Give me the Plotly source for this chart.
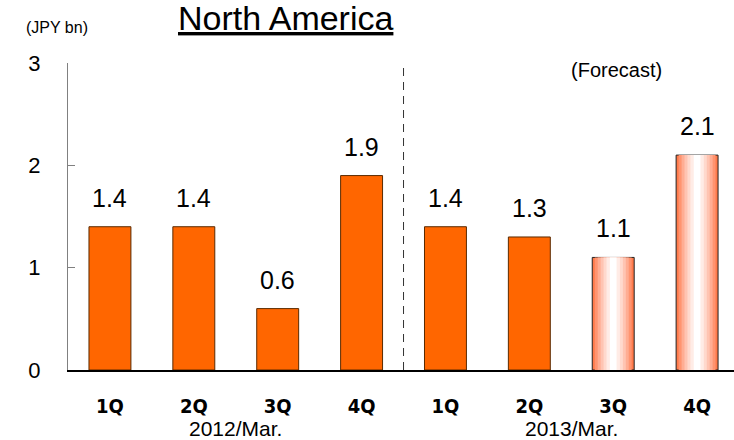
import plotly.graph_objects as go

categories = ["1Q", "2Q", "3Q", "4Q", "1Q", "2Q", "3Q", "4Q"]
values = [1.4, 1.4, 0.6, 1.9, 1.4, 1.3, 1.1, 2.1]
is_forecast = [False, False, False, False, False, False, True, True]
year_labels = ["2012/Mar.", "2013/Mar."]
year_centers = [1.5, 5.5]
yticks = [0, 1, 2, 3]

xs = list(range(len(categories)))
act_x = [x for x, f in zip(xs, is_forecast) if not f]
act_y = [v for v, f in zip(values, is_forecast) if not f]
fc_x = [x for x, f in zip(xs, is_forecast) if f]
fc_y = [v for v, f in zip(values, is_forecast) if f]

fig = go.Figure()
fig.add_trace(go.Bar(x=act_x, y=act_y, width=0.5,
                     marker=dict(color="#FF6600", line=dict(color="#5a2a00", width=1)),
                     hoverinfo="skip"))

# gradient imitation for forecast bars: overlaid bars of shrinking width
layers = [(0.50, "#FF7A4A"), (0.44, "#FF9470"), (0.37, "#FFAD93"),
          (0.30, "#FFC4B2"), (0.23, "#FFD9CD"), (0.16, "#FFECE6"), (0.08, "#FFFFFF")]
for i, (w, c) in enumerate(layers):
    fig.add_trace(go.Bar(x=fc_x, y=fc_y, width=w,
                         marker=dict(color=c,
                                     line=dict(color="#222222" if i == 0 else c,
                                               width=1 if i == 0 else 0)),
                         hoverinfo="skip"))

base_font = "Liberation Sans, Arial"
annotations = []
for x, v in zip(xs, values):
    annotations.append(dict(x=x, y=v, xref="x", yref="y", text=f"{v:.1f}",
                            showarrow=False, yanchor="bottom", xanchor="center", yshift=13,
                            font=dict(family=base_font, size=25, color="#000")))
for lab, cx in zip(year_labels, year_centers):
    annotations.append(dict(x=cx, y=-0.192, xref="x", yref="paper", text=lab,
                            showarrow=False, yanchor="middle", xanchor="center", borderpad=0,
                            font=dict(family=base_font, size=21, color="#000")))
annotations.append(dict(x=0.327, y=1.145, xref="paper", yref="paper",
                        text="<u>North America</u>", showarrow=False, borderpad=0,
                        yanchor="middle", xanchor="center",
                        font=dict(family=base_font, size=34, color="#000")))
annotations.append(dict(x=-0.016, y=1.117, xref="paper", yref="paper",
                        text="(JPY bn)", showarrow=False, yanchor="middle", xanchor="center",
                        font=dict(family=base_font, size=16, color="#000")))
annotations.append(dict(x=0.823, y=0.977, xref="paper", yref="paper",
                        text="(Forecast)", showarrow=False, yanchor="middle", xanchor="center",
                        font=dict(family=base_font, size=20, color="#000")))

fig.add_shape(type="line", xref="x", yref="paper", x0=3.5, x1=3.5, y0=0, y1=1,
              line=dict(color="#333333", width=1, dash="8px,6px"))

fig.update_layout(
    width=734, height=440, barmode="overlay", showlegend=False,
    margin=dict(l=68, r=0, t=63, b=70),
    plot_bgcolor="white", paper_bgcolor="white",
    annotations=annotations,
    xaxis=dict(range=[-0.5, 7.44], tickmode="array", tickvals=xs, ticktext=categories,
               showline=True, linecolor="#000", linewidth=1.5, ticks="",
               showgrid=False, zeroline=False, ticklabelstandoff=17,
               tickfont=dict(family="DejaVu Sans Condensed", size=20, color="#000",
                             weight="bold")),
    yaxis=dict(range=[0, 3], tickmode="array", tickvals=yticks,
               showline=True, linecolor="#808080", linewidth=1,
               ticks="inside", ticklen=7, tickcolor="#808080",
               showgrid=False, zeroline=False, ticklabelstandoff=22,
               tickfont=dict(family=base_font, size=22, color="#000")),
)
fig.write_html("out.html")
